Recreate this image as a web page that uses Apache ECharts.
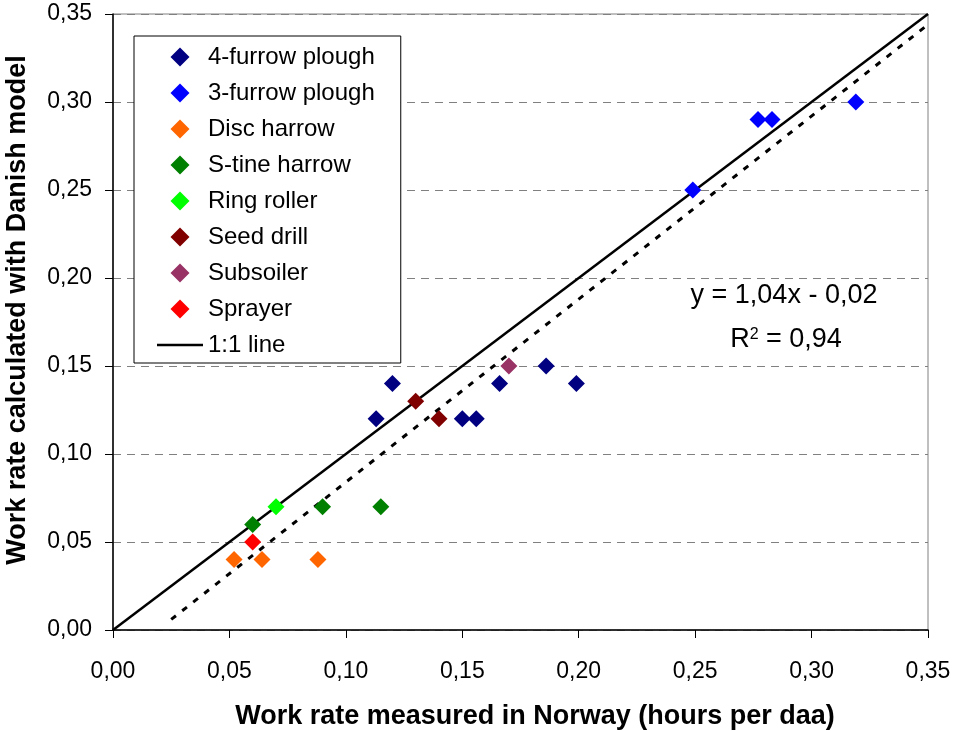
<!DOCTYPE html>
<html>
<head>
<meta charset="utf-8">
<script src="https://cdn.jsdelivr.net/npm/echarts@6/dist/echarts.min.js"></script>
<style>
  html, body { margin: 0; padding: 0; background: #ffffff; }
  #chart { width: 956px; height: 731px; }
</style>
</head>
<body>
<div id="chart"></div>
<script>
// Measured (x) vs modelled (y) work rates, hours per daa
const fourFurrowPlough = [[0.113, 0.12], [0.120, 0.14], [0.150, 0.12], [0.156, 0.12], [0.166, 0.14], [0.186, 0.15], [0.199, 0.14]];
const threeFurrowPlough = [[0.249, 0.25], [0.277, 0.29], [0.283, 0.29], [0.319, 0.30]];
const discHarrow = [[0.052, 0.04], [0.064, 0.04], [0.088, 0.04]];
const sTineHarrow = [[0.060, 0.06], [0.090, 0.07], [0.115, 0.07]];
const ringRoller = [[0.070, 0.07]];
const seedDrill = [[0.130, 0.13], [0.140, 0.12]];
const subsoiler = [[0.170, 0.15]];
const sprayer = [[0.060, 0.05]];

// Reference 1:1 line and fitted regression (y = 1,04x - 0,02)
const oneToOne = [[0, 0], [0.35, 0.35]];
const fitSlope = 1.04;
const fitIntercept = -0.02;
const fitRange = [0.025, 0.35];

const groups = [
  { name: '4-furrow plough', data: fourFurrowPlough, color: '#000080' },
  { name: '3-furrow plough', data: threeFurrowPlough, color: '#0000FF' },
  { name: 'Disc harrow', data: discHarrow, color: '#FF6600' },
  { name: 'S-tine harrow', data: sTineHarrow, color: '#008000' },
  { name: 'Ring roller', data: ringRoller, color: '#00FF00' },
  { name: 'Seed drill', data: seedDrill, color: '#800000' },
  { name: 'Subsoiler', data: subsoiler, color: '#993366' },
  { name: 'Sprayer', data: sprayer, color: '#FF0000' }
];

const FONT = "'Liberation Sans', Arial, sans-serif";
const fmt = v => v.toFixed(2).replace('.', ',');

// square diamond and thin bar used as legend icons (aspect kept)
const DIAMOND_ICON = 'path://M7,0 L14,7 L7,14 L0,7 Z';
const LINE_ICON = 'path://M0,0 L46,0 L46,2.5 L0,2.5 Z';

const chart = echarts.init(document.getElementById('chart'), null, { renderer: 'canvas' });

const scatterSeries = groups.map(g => ({
  name: g.name,
  type: 'scatter',
  data: g.data,
  symbol: 'diamond',
  symbolSize: 17,
  itemStyle: { color: g.color, opacity: 1 },
  z: 5,
  emphasis: { disabled: true }
}));

const fitLine = fitRange.map(x => [x, fitSlope * x + fitIntercept]);

chart.setOption({
  animation: false,
  backgroundColor: '#ffffff',
  textStyle: { fontFamily: FONT },
  grid: {
    left: 113, right: 28, top: 14, bottom: 101,
    show: true, borderColor: '#808080', borderWidth: 1, backgroundColor: 'transparent'
  },
  xAxis: {
    type: 'value', min: 0, max: 0.35, interval: 0.05,
    axisLine: { show: true, onZero: false, lineStyle: { color: '#000000', width: 1.5 } },
    axisTick: { show: true, inside: false, length: 8, lineStyle: { color: '#000000' } },
    axisLabel: { formatter: fmt, color: '#000000', fontSize: 23, fontFamily: FONT, margin: 30 },
    splitLine: { show: false }
  },
  yAxis: {
    type: 'value', min: 0, max: 0.35, interval: 0.05,
    axisLine: { show: true, onZero: false, lineStyle: { color: '#000000', width: 1.5 } },
    axisTick: { show: true, inside: false, length: 8, lineStyle: { color: '#000000' } },
    axisLabel: { formatter: fmt, color: '#000000', fontSize: 23, fontFamily: FONT, margin: 21 },
    splitLine: { show: true, lineStyle: { color: '#808080', width: 1, type: [8, 6] } }
  },
  legend: {
    data: groups.map(g => ({ name: g.name, icon: DIAMOND_ICON }))
      .concat([{ name: '1:1 line', icon: LINE_ICON, itemStyle: { color: '#000000' } }]),
    orient: 'vertical',
    left: 134, top: 36,
    backgroundColor: '#ffffff',
    borderColor: '#000000', borderWidth: 1,
    padding: [9, 26, 6, 23],
    itemWidth: 46, itemHeight: 19, itemGap: 12, itemTextGap: 6,
    symbolKeepAspect: true,
    textStyle: { fontSize: 24, lineHeight: 24, color: '#000000', fontFamily: FONT },
    selectedMode: false
  },
  series: [
    {
      name: '1:1 line',
      type: 'line',
      data: oneToOne,
      symbol: 'none',
      lineStyle: { color: '#000000', width: 2.5 },
      itemStyle: { color: '#000000' },
      z: 3,
      silent: true
    },
    {
      name: 'Linear fit',
      type: 'line',
      data: fitLine,
      symbol: 'none',
      lineStyle: { color: '#000000', width: 3, type: [6, 8] },
      z: 2,
      silent: true
    }
  ].concat(scatterSeries),
  graphic: [
    {
      type: 'text', x: 535, y: 717,
      style: {
        text: 'Work rate measured in Norway (hours per daa)',
        font: "bold 27px " + FONT, fill: '#000000',
        align: 'center', verticalAlign: 'middle'
      }
    },
    {
      type: 'text', x: 18, y: 310, rotation: Math.PI / 2,
      style: {
        text: 'Work rate calculated with Danish model',
        font: "bold 27px " + FONT, fill: '#000000',
        align: 'center', verticalAlign: 'middle'
      }
    },
    {
      type: 'text', x: 784, y: 296,
      style: {
        text: 'y = 1,04x - 0,02',
        font: "27px " + FONT, fill: '#000000',
        align: 'center', verticalAlign: 'middle'
      }
    },
    {
      type: 'text', x: 786, y: 340,
      style: {
        text: '{b|R}{s|2}{b| = 0,94}',
        align: 'center', verticalAlign: 'middle',
        rich: {
          b: { fontSize: 27, fontFamily: FONT, color: '#000000' },
          s: { fontSize: 16, fontFamily: FONT, color: '#000000', verticalAlign: 'top', padding: [0, 0, 10, 0] }
        }
      }
    }
  ]
});
</script>
</body>
</html>
